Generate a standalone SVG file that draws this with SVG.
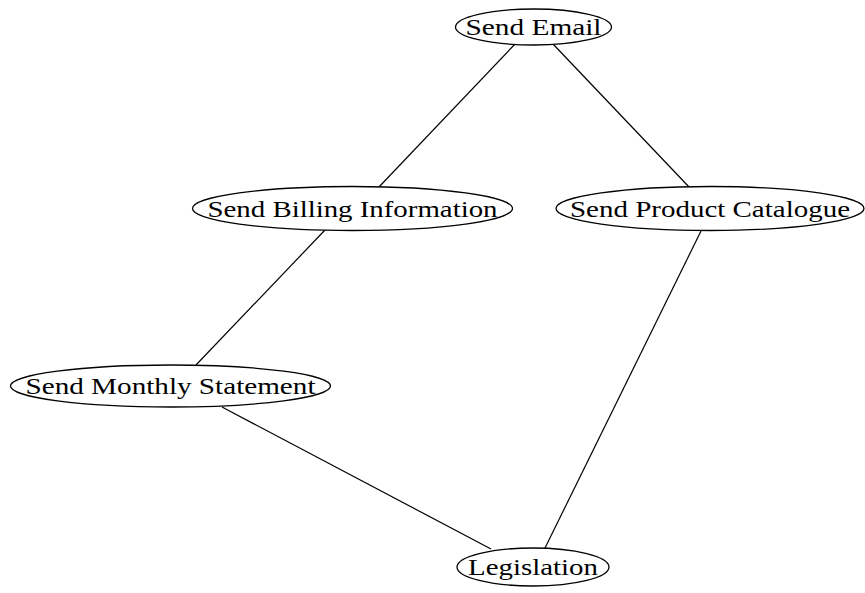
<svg xmlns="http://www.w3.org/2000/svg" width="865" height="593" viewBox="0 0 865 593">
<style>
.n ellipse{fill:#fff;stroke:#000;stroke-width:1.3}
.n text{font-family:"Liberation Serif","DejaVu Serif",serif;font-size:24px;text-anchor:middle;fill:#000}
#edges line{stroke:#000;stroke-width:1.2}
</style>
<rect width="865" height="593" fill="#fff"/>
<g id="edges">
<line x1="515" y1="44" x2="378" y2="188"/>
<line x1="553" y1="44" x2="690" y2="188"/>
<line x1="325" y1="230" x2="196" y2="365"/>
<line x1="701" y1="231" x2="545" y2="548"/>
<line x1="222" y1="407" x2="491" y2="549"/>
</g>
<g id="send-email" class="n"><ellipse cx="533.5" cy="27" rx="78" ry="18"/><text x="533.5" y="34.5" textLength="136" lengthAdjust="spacingAndGlyphs">Send Email</text></g>
<g id="send-billing" class="n"><ellipse cx="352.5" cy="208.5" rx="160" ry="22"/><text x="352.5" y="216.5" textLength="290" lengthAdjust="spacingAndGlyphs">Send Billing Information</text></g>
<g id="send-product" class="n"><ellipse cx="710" cy="208.5" rx="154" ry="22"/><text x="710" y="216.5" textLength="280" lengthAdjust="spacingAndGlyphs">Send Product Catalogue</text></g>
<g id="send-monthly" class="n"><ellipse cx="170.5" cy="386" rx="160" ry="21"/><text x="170.5" y="394" textLength="290" lengthAdjust="spacingAndGlyphs">Send Monthly Statement</text></g>
<g id="legislation" class="n"><ellipse cx="533" cy="567" rx="76" ry="19"/><text x="533" y="575" textLength="130" lengthAdjust="spacingAndGlyphs">Legislation</text></g>
</svg>
